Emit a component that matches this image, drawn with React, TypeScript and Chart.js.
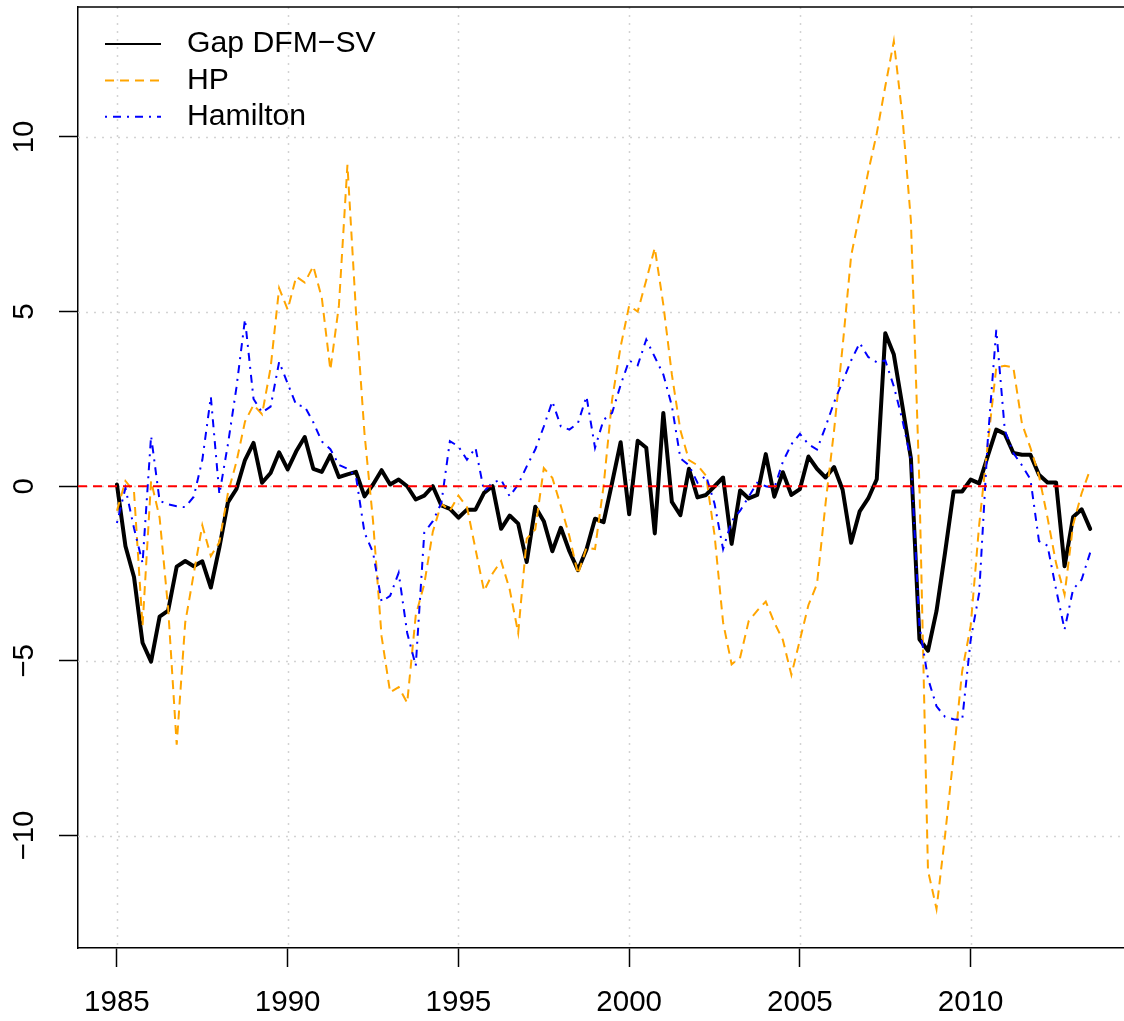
import React, { useEffect, useRef } from "react";
import { Chart, registerables } from "chart.js";

Chart.register(...registerables);

// ---- data (quarterly, 1985Q1 .. 2013Q3) ----
const years = [
  1985, 1986, 1987, 1988, 1989, 1990, 1991, 1992, 1993, 1994,
  1995, 1996, 1997, 1998, 1999, 2000, 2001, 2002, 2003, 2004,
  2005, 2006, 2007, 2008, 2009, 2010, 2011, 2012, 2013,
];
const quarterOffsets = [0, 0.25, 0.5, 0.75];

const seriesLabels = ["Gap DFM\u2212SV", "HP", "Hamilton"];

const gapDfmSv = [
  0.05, -1.72, -2.6, -4.48,
  -5.02, -3.73, -3.56, -2.3,
  -2.14, -2.29, -2.15, -2.9,
  -1.75, -0.46, -0.08, 0.75,
  1.24, 0.1, 0.38, 0.97,
  0.48, 1.0, 1.41, 0.5,
  0.41, 0.89, 0.26, 0.34,
  0.41, -0.29, 0.05, 0.46,
  0.05, 0.19, 0.0, -0.38,
  -0.27, 0.0, -0.55, -0.65,
  -0.9, -0.67, -0.67, -0.19,
  0.0, -1.22, -0.84, -1.07,
  -2.17, -0.59, -1.0, -1.86,
  -1.19, -1.86, -2.4, -1.81,
  -0.93, -1.03, 0.1, 1.26,
  -0.8, 1.3, 1.1, -1.35,
  2.1, -0.45, -0.83, 0.5,
  -0.32, -0.25, 0.0, 0.25,
  -1.65, -0.12, -0.35, -0.25,
  0.92, -0.3, 0.4, -0.25,
  -0.08, 0.85, 0.5, 0.25,
  0.55, -0.1, -1.62, -0.72,
  -0.35, 0.2, 4.38, 3.77,
  2.3, 0.8, -4.38, -4.71,
  -3.57, -1.9, -0.15, -0.15,
  0.19, 0.08, 0.86, 1.62,
  1.5, 0.95, 0.9, 0.9,
  0.33, 0.11, 0.11, -2.29,
  -0.88, -0.66, -1.22,
];

const hp = [
  -0.7, 0.15, -0.15, -4.0,
  0.15, -0.9, -3.5, -7.4,
  -3.9, -2.5, -1.12, -2.0,
  -1.6, -0.2, 0.7, 1.85,
  2.33, 2.06, 3.39, 5.67,
  5.06, 6.0, 5.83, 6.3,
  5.39, 3.33, 5.17, 9.2,
  5.0, 1.5, -1.0, -4.3,
  -5.9, -5.75, -6.2, -3.7,
  -2.8, -1.3, -0.5, -0.7,
  -0.27, -0.6, -1.8, -3.0,
  -2.5, -2.14, -2.95, -4.2,
  -1.5, -1.24, 0.52, 0.24,
  -0.57, -1.43, -2.52, -1.76,
  -1.8, 0.0, 2.48, 4.0,
  5.17, 5.0, 5.9, 6.82,
  5.2, 3.2, 1.6, 0.75,
  0.6, 0.3, -1.4, -3.9,
  -5.1, -4.9, -3.86, -3.56,
  -3.3, -3.9, -4.4, -5.4,
  -4.4, -3.4, -2.8, -0.5,
  1.6, 4.0, 6.6, 7.8,
  9.0, 10.1, 11.45, 12.74,
  10.6, 7.6, 0.0, -11.0,
  -12.1, -10.0, -7.7, -5.3,
  -4.0, -1.1, 1.2, 3.4,
  3.45, 3.4, 1.8, 1.1,
  0.3, -0.9, -2.2, -3.1,
  -1.1, -0.2, 0.48,
];

const hamilton = [
  -1.05, -0.05, -1.2, -2.2,
  1.44, -0.42, -0.52, -0.57,
  -0.6, -0.3, 0.75, 2.56,
  -0.23, 1.2, 2.83, 4.78,
  2.5, 2.11, 2.28, 3.56,
  2.94, 2.33, 2.28, 1.83,
  1.28, 1.06, 0.61, 0.5,
  0.28, -1.33, -1.9, -3.3,
  -3.14, -2.48, -4.2, -5.14,
  -1.33, -1.0, -0.48, 1.29,
  1.14, 0.76, 1.1, -0.14,
  0.1, 0.19, -0.29, 0.05,
  0.57, 1.05, 1.71, 2.43,
  1.71, 1.62, 1.81, 2.57,
  1.1, 1.9, 2.1, 2.9,
  3.6, 3.46, 4.2, 3.7,
  3.2, 2.3, 0.8, 0.6,
  0.1, 0.3, -0.5, -1.8,
  -1.0, -0.7, -0.3, 0.1,
  0.0, -0.05, 0.7, 1.2,
  1.5, 1.2, 1.05, 1.7,
  2.4, 3.0, 3.6, 4.1,
  3.7, 3.55, 3.6, 2.86,
  1.9, 0.76, -4.0, -5.5,
  -6.3, -6.6, -6.67, -6.7,
  -4.4, -3.05, 1.3, 4.48,
  1.6, 0.95, 0.6, 0.2,
  -1.57, -1.7, -2.95, -4.1,
  -2.95, -2.67, -1.9,
];

const xTicks = [1985, 1990, 1995, 2000, 2005, 2010];
const yTicks = [-10, -5, 0, 5, 10];
const zeroLevel = 0;

// ---- styling ----
const FONT = "'Liberation Sans', Arial, Helvetica, sans-serif";
const FONT_SIZE = 29.5;
const LEGEND_FONT_SIZE = 30.2;
const X_MIN = 1983.86;
const X_MAX = 2014.49;
const Y_MIN = -13.22;
const Y_MAX = 13.72;

const dates: number[] = [];
years.forEach((y) => quarterOffsets.forEach((q) => dates.push(y + q)));

const toPoints = (vals: number[]) => vals.map((v, i) => ({ x: dates[i], y: v }));

const fmtNum = (v: number) => (v < 0 ? "\u2212" + Math.abs(v) : String(v));

const rPlotPlugin = {
  id: "rPlot",
  beforeDatasetsDraw(chart: any) {
    const { ctx, chartArea } = chart;
    const xs = chart.scales.x;
    const ys = chart.scales.y;
    ctx.save();
    // dotted light-gray grid
    ctx.strokeStyle = "#d3d3d3";
    ctx.lineWidth = 1.5;
    ctx.setLineDash([2, 6]);
    xTicks.forEach((v) => {
      const px = Math.round(xs.getPixelForValue(v)) + 0.5;
      ctx.beginPath();
      ctx.moveTo(px, chartArea.top);
      ctx.lineTo(px, chartArea.bottom);
      ctx.stroke();
    });
    yTicks.forEach((v) => {
      const py = Math.round(ys.getPixelForValue(v)) + 0.5;
      ctx.beginPath();
      ctx.moveTo(chartArea.left, py);
      ctx.lineTo(chartArea.right, py);
      ctx.stroke();
    });
    // top frame line
    ctx.setLineDash([]);
    ctx.strokeStyle = "#000";
    ctx.lineWidth = 1.5;
    ctx.beginPath();
    ctx.moveTo(chartArea.left, chartArea.top);
    ctx.lineTo(chartArea.right, chartArea.top);
    ctx.stroke();
    ctx.restore();
  },
  afterDraw(chart: any) {
    const { ctx, chartArea } = chart;
    ctx.save();
    const lineX0 = chartArea.left + 27;
    const lineX1 = lineX0 + 56;
    const textX = lineX0 + 82;
    const rowY0 = chartArea.top + 37;
    const rowStep = 36.4;
    ctx.font = `${LEGEND_FONT_SIZE}px ${FONT}`;
    ctx.fillStyle = "#000";
    ctx.textBaseline = "middle";
    ctx.textAlign = "left";
    for (let i = 0; i < seriesLabels.length; i++) {
      const ds = chart.data.datasets[i];
      const y = rowY0 + i * rowStep;
      ctx.strokeStyle = ds.borderColor;
      ctx.lineWidth = 2;
      ctx.lineCap = "butt";
      ctx.setLineDash(ds.borderDash || []);
      ctx.beginPath();
      ctx.moveTo(lineX0, y);
      ctx.lineTo(lineX1, y);
      ctx.stroke();
      ctx.fillText(ds.label, textX, y);
    }
    ctx.restore();
  },
};

export default function App() {
  const canvasRef = useRef<HTMLCanvasElement | null>(null);

  useEffect(() => {
    if (!canvasRef.current) return;
    const chart = new Chart(canvasRef.current, {
      type: "line",
      data: {
        datasets: [
          {
            label: seriesLabels[0],
            data: toPoints(gapDfmSv),
            borderColor: "#000000",
            borderWidth: 4,
            borderJoinStyle: "round",
            borderCapStyle: "round",
            pointRadius: 0,
            tension: 0,
            fill: false,
            order: 3,
          },
          {
            label: seriesLabels[1],
            data: toPoints(hp),
            borderColor: "#FFA500",
            borderWidth: 2,
            borderDash: [9, 6],
            pointRadius: 0,
            tension: 0,
            fill: false,
            order: 2,
          },
          {
            label: seriesLabels[2],
            data: toPoints(hamilton),
            borderColor: "#0000FF",
            borderWidth: 2,
            borderDash: [2, 6, 8, 6],
            pointRadius: 0,
            tension: 0,
            fill: false,
            order: 1,
          },
          {
            label: "zero",
            data: [
              { x: X_MIN, y: zeroLevel },
              { x: X_MAX, y: zeroLevel },
            ],
            borderColor: "#FF0000",
            borderWidth: 2,
            borderDash: [9, 6],
            pointRadius: 0,
            fill: false,
            order: 0,
          },
        ],
      },
      options: {
        animation: false,
        responsive: false,
        maintainAspectRatio: false,
        devicePixelRatio: 1,
        layout: { padding: { top: 7, left: 0, right: 0, bottom: 0 }, autoPadding: false },
        plugins: {
          legend: { display: false },
          tooltip: { enabled: false },
        },
        scales: {
          x: {
            type: "linear",
            min: X_MIN,
            max: X_MAX,
            position: "bottom",
            afterBuildTicks: (s: any) => {
              s.ticks = xTicks.map((v) => ({ value: v }));
            },
            afterFit: (s: any) => {
              s.height = 73;
              s.paddingLeft = 0;
              s.paddingRight = 0;
              s.paddingTop = 0;
              s.paddingBottom = 0;
            },
            grid: {
              drawOnChartArea: false,
              drawTicks: true,
              tickLength: 19,
              tickWidth: 1.5,
              tickColor: "#000",
            },
            border: { display: true, color: "#000", width: 1.5 },
            ticks: {
              autoSkip: false,
              maxRotation: 0,
              minRotation: 0,
              padding: 18,
              color: "#000",
              font: { family: FONT, size: FONT_SIZE },
              callback: (v: any) => String(v),
            },
          },
          y: {
            type: "linear",
            min: Y_MIN,
            max: Y_MAX,
            position: "left",
            afterBuildTicks: (s: any) => {
              s.ticks = yTicks.map((v) => ({ value: v }));
            },
            afterFit: (s: any) => {
              s.width = 78;
              s.paddingLeft = 0;
              s.paddingRight = 0;
              s.paddingTop = 0;
              s.paddingBottom = 0;
            },
            grid: {
              drawOnChartArea: false,
              drawTicks: true,
              tickLength: 19,
              tickWidth: 1.5,
              tickColor: "#000",
            },
            border: { display: true, color: "#000", width: 1.5 },
            ticks: {
              autoSkip: false,
              minRotation: 90,
              maxRotation: 90,
              crossAlign: "center",
              padding: 9,
              color: "#000",
              font: { family: FONT, size: FONT_SIZE },
              callback: (v: any) => fmtNum(Number(v)),
            },
          },
        },
      },
      plugins: [rPlotPlugin],
    } as any);
    return () => chart.destroy();
  }, []);

  return (
    <div style={{ position: "fixed", left: 0, top: 0, width: 1124, height: 1021, background: "#fff" }}>
      <canvas ref={canvasRef} width={1124} height={1021} style={{ display: "block", width: 1124, height: 1021 }} />
    </div>
  );
}
